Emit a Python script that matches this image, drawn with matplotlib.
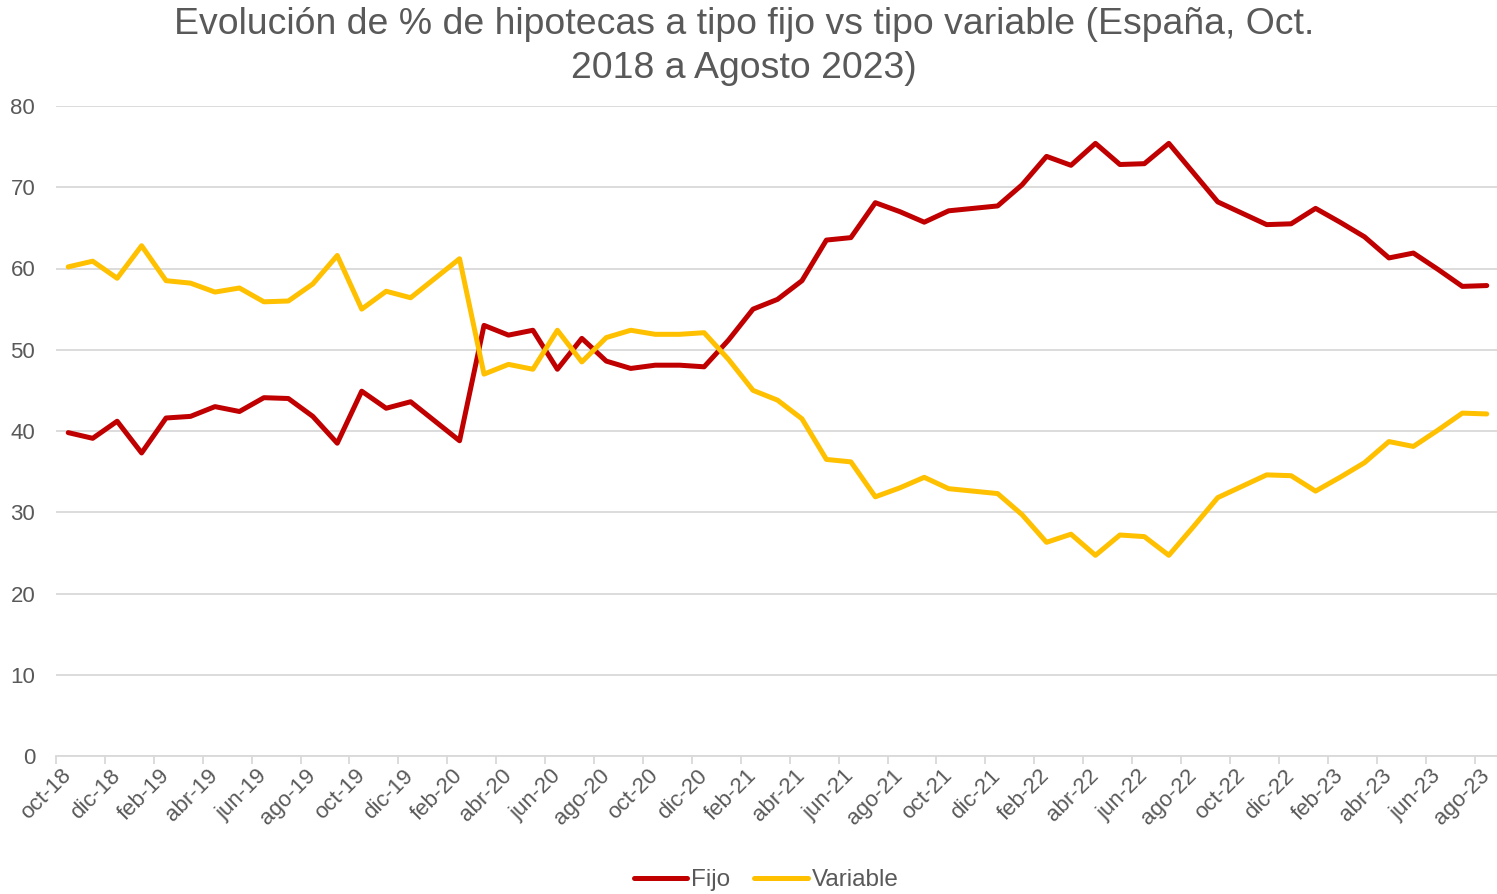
import matplotlib
matplotlib.use("Agg")
import matplotlib.pyplot as plt

plt.rcParams["font.family"] = ["Liberation Sans", "DejaVu Sans"]

# months oct-18 .. ago-23
MONTHS = ["ene", "feb", "mar", "abr", "may", "jun", "jul", "ago", "sep", "oct", "nov", "dic"]
categories = []
for year in range(18, 24):
    for m, name in enumerate(MONTHS):
        if (year == 18 and m < 9) or (year == 23 and m > 7):
            continue
        categories.append(f"{name}-{year}")

fijo = [39.8, 39.1, 41.2, 37.3, 41.6, 41.8, 43.0, 42.4, 44.1, 44.0, 41.8, 38.5,
        44.9, 42.8, 43.6, 41.2, 38.8, 53.0, 51.8, 52.4, 47.6, 51.4, 48.6, 47.7,
        48.1, 48.1, 47.9, 51.2, 55.0, 56.2, 58.5, 63.5, 63.8, 68.1, 67.0, 65.7,
        67.1, 67.4, 67.7, 70.3, 73.8, 72.7, 75.4, 72.8, 72.9, 75.4, 71.8, 68.2,
        66.8, 65.4, 65.5, 67.4, 65.7, 63.9, 61.3, 61.9, 59.9, 57.8, 57.9]
variable = [60.2, 60.9, 58.8, 62.8, 58.5, 58.2, 57.1, 57.6, 55.9, 56.0, 58.1, 61.6,
            55.0, 57.2, 56.4, 58.8, 61.2, 47.0, 48.2, 47.6, 52.4, 48.5, 51.5, 52.4,
            51.9, 51.9, 52.1, 48.8, 45.0, 43.8, 41.5, 36.5, 36.2, 31.9, 33.0, 34.3,
            32.9, 32.6, 32.3, 29.7, 26.3, 27.3, 24.7, 27.2, 27.0, 24.7, 28.2, 31.8,
            33.2, 34.6, 34.5, 32.6, 34.3, 36.1, 38.7, 38.1, 40.1, 42.2, 42.1]
yticks = [0, 10, 20, 30, 40, 50, 60, 70, 80]

TEXT = "#595959"
GRID = "#D9D9D9"

fig = plt.figure(figsize=(14.97, 8.94), dpi=100)
W, H = 1497, 894
ax = fig.add_axes([56 / W, (H - 756) / H, (1499 - 56) / W, 650 / H])

x = list(range(len(categories)))
kw = dict(linewidth=3.6, solid_joinstyle="round", solid_capstyle="round")
ax.plot(x, fijo, color="#C00000", label="Fijo", **kw)
ax.plot(x, variable, color="#FFC000", label="Variable", **kw)

ax.set_xlim(-0.5, len(categories) - 0.5)
ax.set_ylim(0, 80)
ax.set_yticks(yticks)
ax.grid(axis="y", color=GRID, linewidth=1.3)
ax.set_axisbelow(True)
for side in ["top", "right", "left"]:
    ax.spines[side].set_visible(False)
ax.spines["bottom"].set_color(GRID)
ax.spines["bottom"].set_linewidth(1.3)

# labels on every second category, tick marks on the boundaries
ax.set_xticks(x[::2], categories[::2])
ax.set_xticks([i - 0.5 for i in x[::2]], minor=True)
ax.tick_params(axis="x", which="major", length=0, pad=12, labelsize=16, labelcolor=TEXT)
ax.tick_params(axis="x", which="minor", length=6, width=1.3, color=GRID)
ax.tick_params(axis="y", length=0, pad=15, labelsize=16, labelcolor=TEXT)
for lab in ax.get_xticklabels():
    lab.set_rotation(45)
    lab.set_rotation_mode("anchor")
    lab.set_ha("right")
    lab.set_va("center")

fig.text(0.497, 1 - 24 / H, "Evolución de % de hipotecas a tipo fijo vs tipo variable (España, Oct.",
         ha="center", va="center", fontsize=26.9, color=TEXT)
fig.text(0.497, 1 - 68 / H, "2018 a Agosto 2023)",
         ha="center", va="center", fontsize=26.9, color=TEXT)

fig.legend(loc="center", bbox_to_anchor=(766 / W, 1 - 880 / H), ncol=2, frameon=False,
           fontsize=17.5, labelcolor=TEXT, handlelength=2.2, handletextpad=0.15,
           columnspacing=1.0)

fig.savefig("out.png", dpi=100)
